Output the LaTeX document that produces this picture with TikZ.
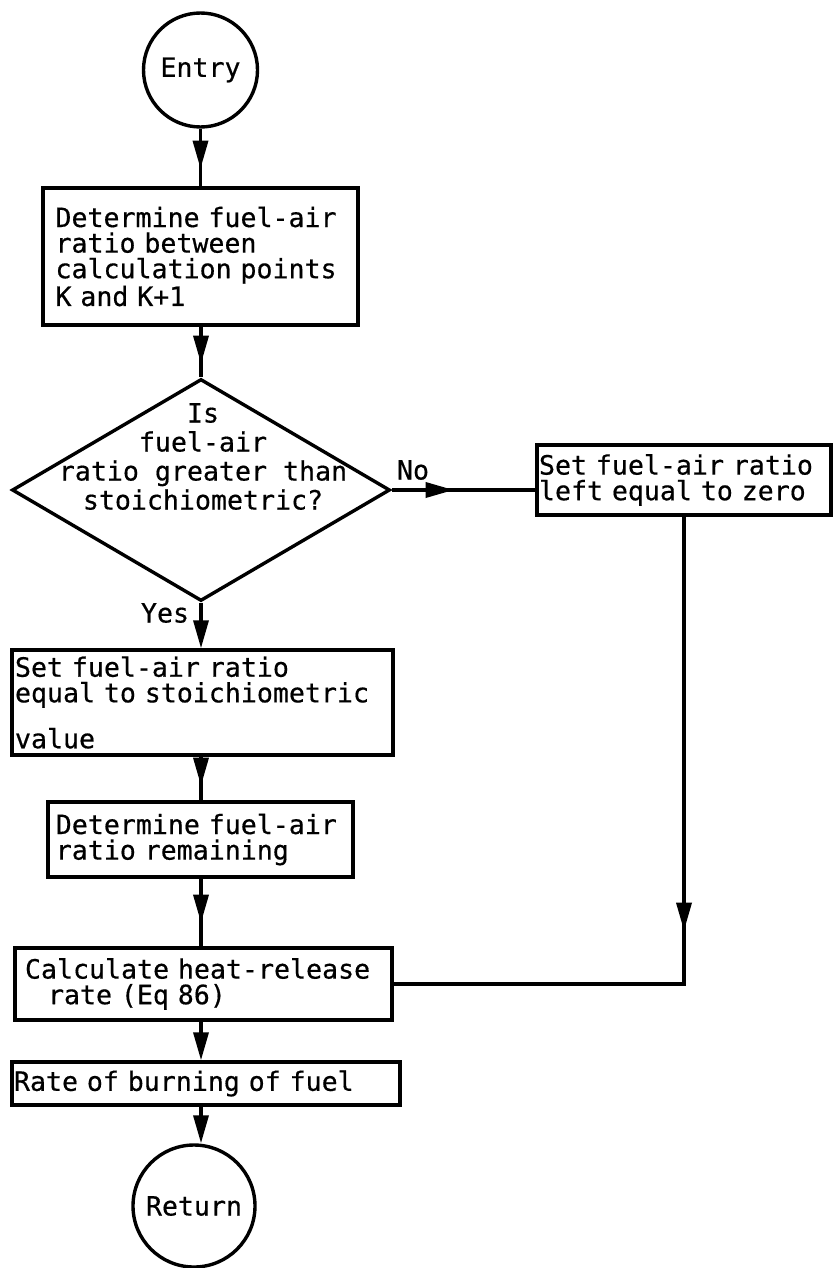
\documentclass[tikz,border=0pt]{standalone}
\usepackage{fontspec}
% typewriter-like sans mono, slightly darkened
\newfontfamily\flowfont{DejaVu Sans Mono}[UprightFeatures={FakeBold=0.5}]
\usetikzlibrary{shapes.geometric,arrows.meta,decorations.markings}
\begin{document}
\begin{tikzpicture}[x=0.5pt,y=-0.5pt,
  every node/.style={font=\flowfont\fontsize{13.3}{12.8}\selectfont},
  border/.style={draw,line width=1.7pt},
  procbox/.style={border,rectangle,align=left,inner ysep=0pt},
  terminal/.style={border,circle,inner sep=0pt},
  decision/.style={border,diamond,inner sep=0pt},
  flow/.style={line width=1.7pt},
  headtip/.style={-{Triangle[length=14pt,width=7.5pt]}},
  tipat/.style={postaction={decorate},
    decoration={markings,mark=at position #1 with {\arrow{Triangle[length=14pt,width=7.5pt]}}}},
  lbl/.style={inner sep=0pt}
]
\useasboundingbox (0,0) rectangle (833,1268);

% terminals
\node[terminal,minimum size=57pt] (entry) at (200.5,70) {Entry};
\node[terminal,minimum size=61pt] (ret) at (194,1206) {Return};

% processing steps
\node[procbox,minimum height=68.5pt,text width=145pt,inner xsep=6.25pt] (calcfa) at (200.5,256.5)
  {Determine fuel-air\\ratio between\\calculation points\\K and K+1};
\node[procbox,minimum height=52.5pt,text width=187.5pt,inner xsep=1.5pt] (setstoich) at (202.5,702.5)
  {Set fuel-air ratio\\equal to stoichiometric\\[9pt]value};
\node[procbox,minimum height=37.5pt,text width=144.7pt,inner xsep=3.9pt] (remain) at (200.5,839.5)
  {Determine fuel-air\\ratio remaining};
\node[procbox,minimum height=36pt,text width=178.5pt,inner xsep=5pt] (heat) at (203.5,984)
  {Calculate heat-release\\\hspace*{11.5pt}rate (Eq 86)};
\node[procbox,minimum height=21.5pt,text width=192pt,inner xsep=1pt] (burn) at (206,1083.5)
  {Rate of burning of fuel};
\node[procbox,minimum height=35pt,text width=145pt,inner xsep=1pt] (zerofa) at (684,480)
  {Set fuel-air ratio\\left equal to zero};

% decision
\node[decision,minimum width=189pt,minimum height=111pt] (dec) at (201,490) {};
\node[align=center,inner sep=0pt,font=\flowfont\fontsize{13.3}{14.5}\selectfont] (decq) at (203,456.5)
  {Is\\fuel-air\\ratio greater than\\stoichiometric?};

% branch labels
\node[lbl] (nolbl) at (413,470) {No};
\node[lbl] (yeslbl) at (165,613) {Yes};

% main flow
\draw[flow,tipat=20pt] (entry.south) -- (entry.south |- calcfa.north);
\draw[flow,tipat=18.5pt] (calcfa.south -| dec.north) -- (dec.north);
\draw[flow,headtip] (dec.south) -- (dec.south |- setstoich.north);
\draw[flow,tipat=14.5pt] (setstoich.south -| dec.south) -- (remain.north -| dec.south);
\draw[flow,tipat=22pt] (remain.south -| dec.south) -- (heat.north -| dec.south);
\draw[flow,headtip] (heat.south -| dec.south) -- (burn.north -| dec.south);
\draw[flow,headtip] (burn.south -| dec.south) -- (ret.north -| dec.south);

% "No" branch
\draw[flow,tipat=31pt] (dec.east) -- (dec.east -| zerofa.west);
\draw[flow,tipat=207pt] (zerofa.south) |- (heat.east);
\end{tikzpicture}
\end{document}
